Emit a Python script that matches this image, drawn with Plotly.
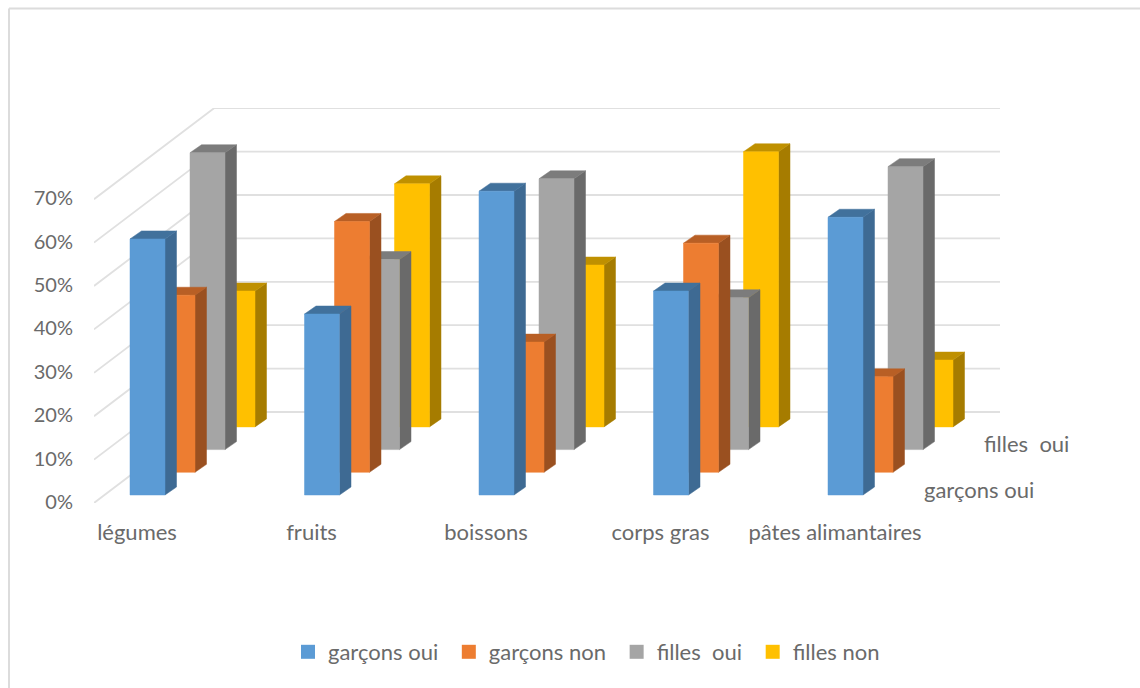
import plotly.graph_objects as go

# Survey results per food group
categories = ["légumes", "fruits", "boissons", "corps gras", "pâtes alimantaires"]
garcons_oui = [59.0, 41.7, 70.0, 47.0, 64.0]
garcons_non = [40.8, 57.8, 30.0, 52.8, 22.0]
filles_oui = [68.4, 43.8, 62.4, 35.0, 65.2]
filles_non = [31.3, 56.0, 37.3, 63.4, 15.4]
percent_ticks = [0, 10, 20, 30, 40, 50, 60, 70]

W, H = 1140, 688
ML, MR, MT, MB = 94, 50, 108, 185
PX_PER_GROUP = 174.5
PX_PER_PCT = 4.34
ORIGIN_PX = 130                     # left edge of the first front bar

def dx(px):
    return px / PX_PER_GROUP

def dy(px):
    return px / PX_PER_PCT

x_range = [dx(ML - ORIGIN_PX), dx(W - MR - ORIGIN_PX)]
y_range = [0, dy(H - MT - MB)]

BAR_W = dx(35)
ROW_DX, ROW_DY = dx(30), dy(22.7)
FRONT_LIFT = dy(8)
SIDE_DX, SIDE_DY = dx(11.5), dy(8)
WALL_DX, WALL_DY = dx(120), dy(91)
WALL_END = dx(1000 - ORIGIN_PX)

TEXT = "#6a6a6a"
FONT = "Lato"
FS = 22

rows = [
    ("garçons oui", garcons_oui, "#5B9BD5", "#3E6A93", "#41719C"),
    ("garçons non", garcons_non, "#ED7D31", "#9A5020", "#B85F25"),
    ("filles \u00a0oui", filles_oui, "#A5A5A5", "#6A6A6A", "#7C7C7C"),
    ("filles non", filles_non, "#FFC000", "#A67C00", "#BF9000"),
]

fig = go.Figure()

# Floor-to-wall gridlines in oblique projection
gx, gy = [], []
for v in percent_ticks:
    gx += [x_range[0], x_range[0] + WALL_DX, WALL_END, None]
    gy += [v, v + WALL_DY, v + WALL_DY, None]
fig.add_trace(go.Scatter(x=gx, y=gy, mode="lines", showlegend=False, hoverinfo="skip",
                         line=dict(color="#e0e0e0", width=1.8)))


def polys(corner_lists):
    xs, ys = [], []
    for corners in corner_lists:
        for cx, cy in corners:
            xs.append(cx)
            ys.append(cy)
        xs.append(None)
        ys.append(None)
    return xs, ys


def face(corners, color):
    xs, ys = polys(corners)
    fig.add_trace(go.Scatter(x=xs, y=ys, mode="lines", fill="toself", fillcolor=color,
                             line=dict(color=color, width=0.5), showlegend=False,
                             hoverinfo="skip"))


# Rows are painted back to front so nearer bars cover farther ones
for r in range(len(rows) - 1, -1, -1):
    name, values, front, side, top = rows[r]
    fronts, sides, tops = [], [], []
    for i, v in enumerate(values):
        x0 = i + r * ROW_DX
        x1 = x0 + BAR_W
        b = FRONT_LIFT + r * ROW_DY
        t = b + v
        fronts.append([(x0, b), (x1, b), (x1, t), (x0, t), (x0, b)])
        sides.append([(x1, b), (x1 + SIDE_DX, b + SIDE_DY), (x1 + SIDE_DX, t + SIDE_DY),
                      (x1, t), (x1, b)])
        tops.append([(x0, t), (x1, t), (x1 + SIDE_DX, t + SIDE_DY),
                     (x0 + SIDE_DX, t + SIDE_DY), (x0, t)])
    face(sides, side)
    face(tops, top)
    face(fronts, front)

# Legend keys; the trailing no-break space widens the gap between entries
for name, values, front, side, top in rows:
    fig.add_trace(go.Scatter(x=[None], y=[None], mode="markers", name=name + "\u00a0",
                             marker=dict(symbol="square", size=14, color=front)))

# Depth axis labels
fig.add_annotation(x=dx(979 - ORIGIN_PX), y=dy(503 - 489), text="garçons oui", showarrow=False,
                   xref="x", yref="y", font=dict(family=FONT, size=FS, color=TEXT))
fig.add_annotation(x=dx(1026 - ORIGIN_PX), y=dy(503 - 443), text="filles \u00a0oui", showarrow=False,
                   xref="x", yref="y", font=dict(family=FONT, size=FS, color=TEXT))

plot_w = W - ML - MR
plot_h = H - MT - MB


def paper_x(px):
    return (px - ML) / plot_w


def paper_y(px):
    return (H - MB - px) / plot_h


# Chart frame, open towards the right and bottom of the page
fig.add_shape(type="line", xref="paper", yref="paper", x0=paper_x(9), x1=paper_x(W), y0=paper_y(8.5),
              y1=paper_y(8.5), line=dict(color="#dcdcdc", width=2))
fig.add_shape(type="line", xref="paper", yref="paper", x0=paper_x(9), x1=paper_x(9), y0=paper_y(8.5),
              y1=paper_y(H), line=dict(color="#dcdcdc", width=2))

fig.update_layout(
    width=W, height=H,
    margin=dict(l=ML, r=MR, t=MT, b=MB, autoexpand=False),
    paper_bgcolor="white", plot_bgcolor="white",
    font=dict(family=FONT, size=FS, color=TEXT),
    xaxis=dict(range=x_range, tickmode="array", tickvals=[i + dx(7) for i in range(len(categories))],
               ticktext=categories, showgrid=False, zeroline=False, showline=False, ticks="",
               ticklabelstandoff=14, fixedrange=True),
    yaxis=dict(range=y_range, tickmode="array", tickvals=percent_ticks,
               ticktext=[f"{v}%" for v in percent_ticks], showgrid=False, zeroline=False,
               showline=False, ticks="", ticklabelstandoff=20, ticklabelshift=-1,
               tickfont=dict(family=FONT, size=20, color=TEXT), fixedrange=True),
    legend=dict(orientation="h", x=paper_x(288), xanchor="left", y=paper_y(652), yanchor="middle",
                font=dict(family=FONT, size=FS, color=TEXT), bgcolor="rgba(0,0,0,0)",
                itemwidth=30, tracegroupgap=0),
    showlegend=True,
)

fig.write_html("out.html")
